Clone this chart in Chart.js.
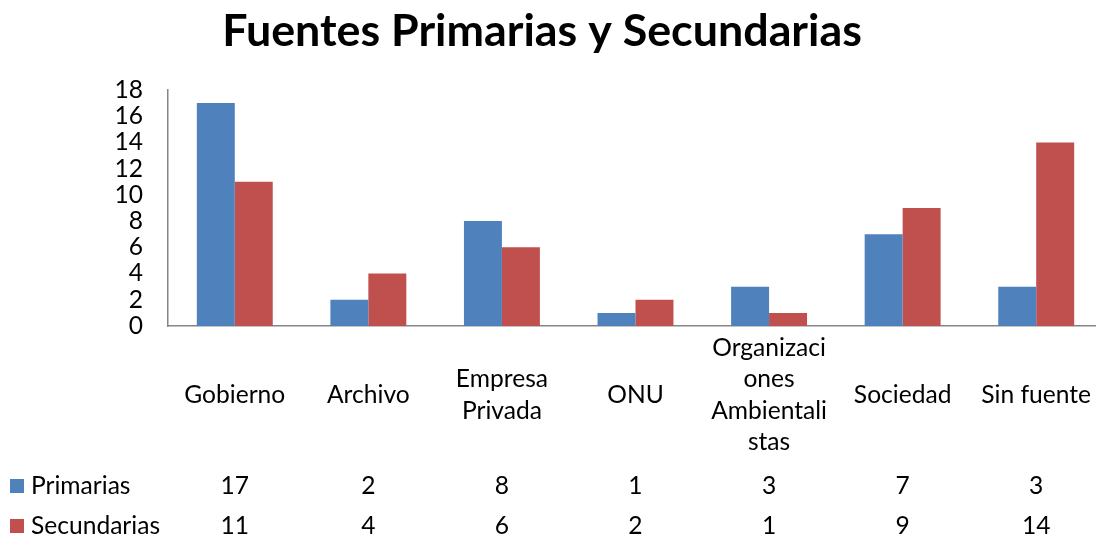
<!DOCTYPE html>
<html>
<head>
<meta charset="utf-8">
<script src="https://cdn.jsdelivr.net/npm/chart.js@4/dist/chart.umd.min.js"></script>
<style>
  html, body { margin: 0; padding: 0; background: #fff; overflow: hidden; }
  #wrap { width: 1096px; height: 538px; overflow: hidden; }
</style>
</head>
<body>
<div id="wrap"><canvas id="c" width="1103" height="538"></canvas></div>
<script>
const TITLE = 'Fuentes Primarias y Secundarias';
const categories = ['Gobierno', 'Archivo', 'Empresa Privada', 'ONU', 'Organizaciones Ambientalistas', 'Sociedad', 'Sin fuente'];
const categoryLines = [['Gobierno'], ['Archivo'], ['Empresa', 'Privada'], ['ONU'], ['Organizaci', 'ones', 'Ambientali', 'stas'], ['Sociedad'], ['Sin fuente']];
const seriesNames = ['Primarias', 'Secundarias'];
const primarias = [17, 2, 8, 1, 3, 7, 3];
const secundarias = [11, 4, 6, 2, 1, 9, 14];
const yTicks = [0, 2, 4, 6, 8, 10, 12, 14, 16, 18];
const colors = ['#4F81BD', '#C0504D'];

const FONT = 'Lato';
function fitSize(text, targetWidth, weight) {
  const cv = document.createElement('canvas').getContext('2d');
  cv.font = (weight ? weight + ' ' : '') + '100px ' + FONT;
  return 100 * targetWidth / cv.measureText(text).width;
}
const titleSize = fitSize(TITLE, 640, 'bold');
const bodySize = fitSize('Gobierno', 101, '');

const tablePlugin = {
  id: 'dataTable',
  afterDraw(chart) {
    const ctx = chart.ctx;
    const x = chart.scales.x;
    ctx.save();
    // title
    ctx.fillStyle = '#000';
    ctx.font = 'bold ' + titleSize + 'px ' + FONT;
    ctx.textAlign = 'center';
    ctx.textBaseline = 'middle';
    ctx.fillText(TITLE, 542, 32);
    // category labels
    ctx.font = bodySize + 'px ' + FONT;
    const lh = 31.5;
    categoryLines.forEach((lines, i) => {
      const cx = x.getPixelForValue(i);
      const y0 = 395 - (lines.length - 1) * lh / 2;
      lines.forEach((ln, j) => ctx.fillText(ln, cx, y0 + j * lh));
    });
    // data table rows
    const rows = [primarias, secundarias];
    const rowY = [486, 526];
    rows.forEach((vals, r) => {
      ctx.fillStyle = colors[r];
      ctx.fillRect(10, rowY[r] - 7, 14, 14);
      ctx.fillStyle = '#000';
      ctx.textAlign = 'left';
      ctx.fillText(seriesNames[r], 31, rowY[r]);
      ctx.textAlign = 'center';
      vals.forEach((v, i) => ctx.fillText(String(v), x.getPixelForValue(i), rowY[r]));
    });
    ctx.restore();
  }
};

new Chart(document.getElementById('c'), {
  type: 'bar',
  data: {
    labels: categories,
    datasets: [
      { label: seriesNames[0], data: primarias, backgroundColor: colors[0] },
      { label: seriesNames[1], data: secundarias, backgroundColor: colors[1] }
    ]
  },
  options: {
    responsive: false,
    animation: false,
    devicePixelRatio: 1,
    layout: { padding: { top: 90, bottom: 212, left: 0, right: 0 } },
    plugins: { legend: { display: false }, title: { display: false }, tooltip: { enabled: false } },
    datasets: { bar: { categoryPercentage: 0.5685, barPercentage: 1 } },
    scales: {
      x: {
        grid: { display: false, drawTicks: false },
        border: { display: true, color: '#868686', width: 1.5 },
        ticks: { display: false }
      },
      y: {
        min: 0, max: 18,
        afterFit(scale) { scale.width = 168; },
        afterBuildTicks(scale) { scale.ticks = yTicks.map(v => ({ value: v })); },
        grid: { display: false, drawTicks: false },
        border: { display: true, color: '#868686', width: 1.5 },
        ticks: { color: '#000', padding: 25, autoSkip: false, font: { family: FONT, size: bodySize } }
      }
    }
  },
  plugins: [tablePlugin]
});
</script>
</body>
</html>
